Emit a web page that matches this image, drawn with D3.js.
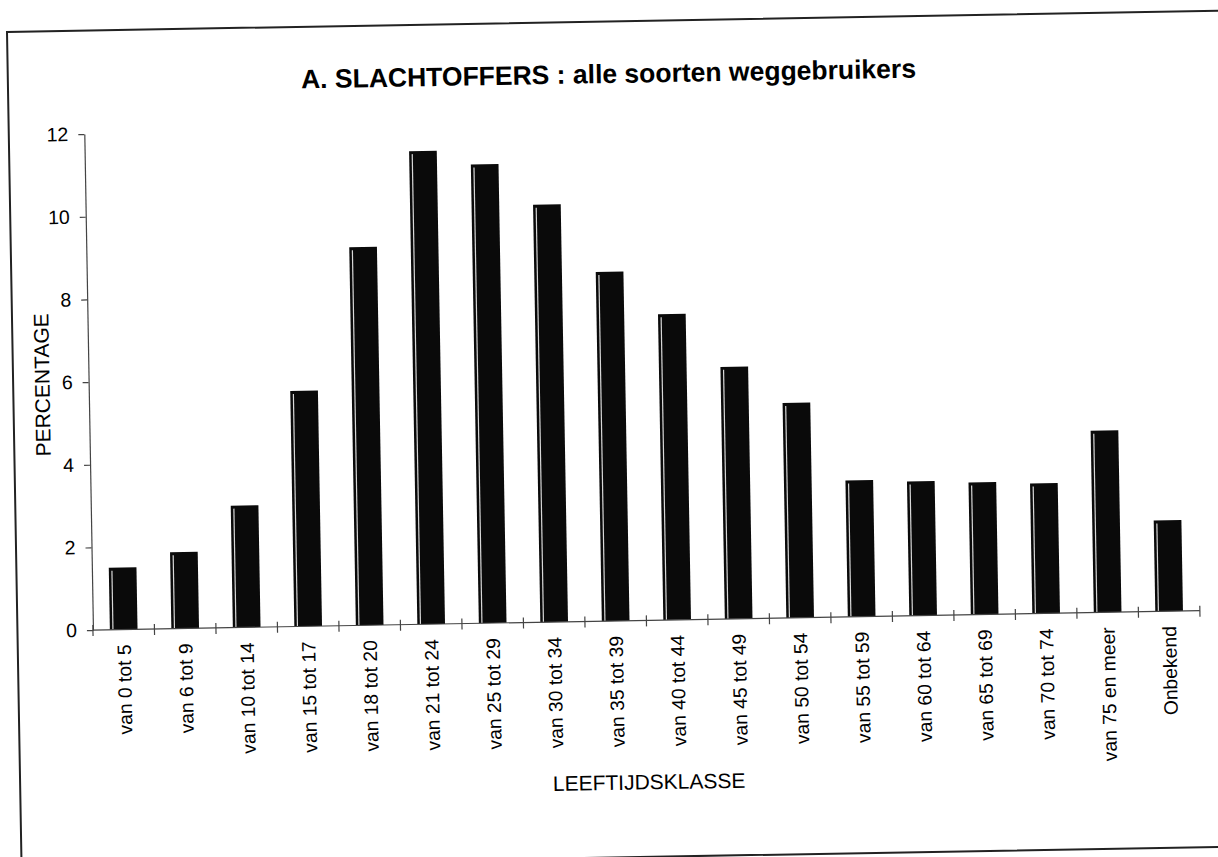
<!DOCTYPE html>
<html>
<head>
<meta charset="utf-8">
<script src="https://cdn.jsdelivr.net/npm/d3@7"></script>
<style>
  html, body { margin: 0; padding: 0; background: #fff; }
  svg { display: block; }
  text { font-family: "Liberation Sans", Arial, sans-serif; fill: #000; }
</style>
</head>
<body>
<svg id="chart" width="1218" height="857"></svg>
<script>
const categories = [
  "van 0 tot 5", "van 6 tot 9", "van 10 tot 14", "van 15 tot 17", "van 18 tot 20",
  "van 21 tot 24", "van 25 tot 29", "van 30 tot 34", "van 35 tot 39", "van 40 tot 44",
  "van 45 tot 49", "van 50 tot 54", "van 55 tot 59", "van 60 tot 64", "van 65 tot 69",
  "van 70 tot 74", "van 75 en meer", "Onbekend"
];
const percentages = [
  1.5, 1.85, 2.95, 5.7, 9.15,
  11.45, 11.1, 10.1, 8.45, 7.4,
  6.1, 5.2, 3.3, 3.25, 3.2,
  3.15, 4.4, 2.2
];
const yTickValues = [0, 2, 4, 6, 8, 10, 12];
const titleText = "A. SLACHTOFFERS : alle soorten weggebruikers";
const yAxisTitle = "PERCENTAGE";
const xAxisTitle = "LEEFTIJDSKLASSE";

const svg = d3.select("#chart");
svg.append("rect").attr("width", 1218).attr("height", 857).attr("fill", "#fff");

// whole scanned page is slightly tilted
const g = svg.append("g").attr("transform", "rotate(-1, 609, 428)");

// outer frame
g.append("rect")
  .attr("x", 14).attr("y", 21.5)
  .attr("width", 1240).attr("height", 836)
  .attr("fill", "none").attr("stroke", "#222").attr("stroke-width", 2);

const plotLeft = 89.5, plotRight = 1196.6, plotTop = 125, plotBottom = 621;

const x = d3.scaleBand().domain(categories).range([plotLeft, plotRight])
  .paddingInner(0.55).paddingOuter(0.275);
const y = d3.scaleLinear().domain([0, 12]).range([plotBottom, plotTop]);

// bars
const bars = g.append("g");
bars.selectAll("rect.bar").data(percentages).join("rect")
  .attr("class", "bar")
  .attr("x", (d, i) => x(categories[i]))
  .attr("y", d => y(d))
  .attr("width", x.bandwidth())
  .attr("height", d => y(0) - y(d))
  .attr("fill", "#0a0a0a");
// thin light streak inside each bar (print artefact)
bars.selectAll("rect.streak").data(percentages).join("rect")
  .attr("class", "streak")
  .attr("x", (d, i) => x(categories[i]) + 2.5)
  .attr("y", d => y(d) + 3)
  .attr("width", 1.2)
  .attr("height", d => Math.max(0, y(0) - y(d) - 3))
  .attr("fill", "#d8d8d8");

// y axis
const yAxis = g.append("g")
  .attr("transform", `translate(${plotLeft},0)`)
  .call(d3.axisLeft(y).tickValues(yTickValues).tickSize(6).tickPadding(10).tickSizeOuter(0));
yAxis.select(".domain").attr("stroke", "#444").attr("stroke-width", 1.2);
yAxis.selectAll(".tick line").attr("stroke", "#444").attr("stroke-width", 1.2);
yAxis.selectAll(".tick text")
  .attr("font-size", 19.5).attr("font-family", "Liberation Sans, Arial, sans-serif").attr("fill", "#000");

// x axis line
g.append("line")
  .attr("x1", plotLeft).attr("x2", plotRight).attr("y1", y(0)).attr("y2", y(0))
  .attr("stroke", "#444").attr("stroke-width", 1.2);
// tick marks between categories
const boundaries = d3.range(categories.length + 1).map(i => plotLeft + i * x.step());
g.append("g").selectAll("line").data(boundaries).join("line")
  .attr("x1", d => d).attr("x2", d => d)
  .attr("y1", y(0) - 5).attr("y2", y(0) + 6)
  .attr("stroke", "#444").attr("stroke-width", 1.2);

// category labels
g.append("g").selectAll("text").data(categories).join("text")
  .attr("transform", d => `translate(${x(d) + x.bandwidth() / 2}, ${y(0) + 15}) rotate(-90)`)
  .attr("text-anchor", "end")
  .attr("dy", "0.35em")
  .attr("font-size", 19.3)
  .text(d => d);

// title
g.append("text")
  .attr("x", 614.7).attr("y", 83)
  .attr("text-anchor", "middle")
  .attr("font-size", 26.5).attr("font-weight", "bold")
  .text(titleText);

// y axis title
g.append("text")
  .attr("transform", "translate(43, 375) rotate(-90)")
  .attr("text-anchor", "middle")
  .attr("dy", "0.35em")
  .attr("font-size", 21)
  .text(yAxisTitle);

// x axis title
g.append("text")
  .attr("x", 643).attr("y", 790)
  .attr("text-anchor", "middle")
  .attr("font-size", 21)
  .text(xAxisTitle);
</script>
</body>
</html>
